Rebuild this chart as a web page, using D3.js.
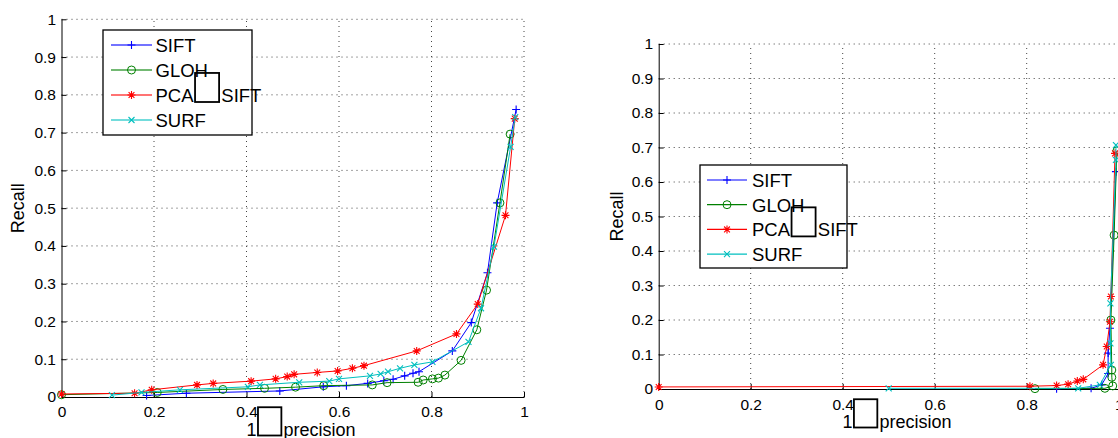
<!DOCTYPE html>
<html>
<head>
<meta charset="utf-8">
<script src="https://cdn.jsdelivr.net/npm/d3@7"></script>
<style>
  body { margin: 0; background: #fff; }
  svg { display: block; font-family: "Liberation Sans", Arial, sans-serif; }
</style>
</head>
<body>
<svg id="chart" width="1118" height="438"></svg>
<script>

// Series labels, colours and markers (legend order)
var seriesNames = ["SIFT", "GLOH", "PCA\u2212SIFT", "SURF"];
var seriesColors = ["#0000ff", "#008000", "#ff0000", "#00bfbf"];
var seriesMarkers = ["plus", "circle", "star", "cross"];

// Tick values and axis titles
var xTicks = [0, 0.2, 0.4, 0.6, 0.8, 1];
var yTicks = [0, 0.1, 0.2, 0.3, 0.4, 0.5, 0.6, 0.7, 0.8, 0.9, 1];
var xLabel = "1\u2212precision";
var yLabel = "Recall";

// Left panel, [1-precision, recall]
var leftSift = [[0.184, 0.004], [0.27, 0.01], [0.472, 0.016], [0.566, 0.027], [0.616, 0.03],
  [0.662, 0.036], [0.697, 0.043], [0.717, 0.047], [0.742, 0.056], [0.76, 0.063], [0.773, 0.067],
  [0.845, 0.122], [0.886, 0.197], [0.921, 0.329], [0.942, 0.514], [0.983, 0.761]];
var leftGloh = [[0, 0.006], [0.207, 0.012], [0.349, 0.02], [0.439, 0.023], [0.506, 0.026],
  [0.567, 0.03], [0.672, 0.032], [0.704, 0.038], [0.771, 0.039], [0.782, 0.045], [0.802, 0.048],
  [0.815, 0.05], [0.829, 0.058], [0.864, 0.097], [0.898, 0.178], [0.919, 0.283], [0.948, 0.514],
  [0.97, 0.696]];
var leftPca = [[0, 0.008], [0.158, 0.01], [0.195, 0.019], [0.293, 0.032], [0.328, 0.036],
  [0.41, 0.042], [0.463, 0.048], [0.488, 0.054], [0.503, 0.06], [0.553, 0.065], [0.597, 0.069],
  [0.629, 0.076], [0.654, 0.083], [0.768, 0.122], [0.854, 0.167], [0.9, 0.246], [0.96, 0.481],
  [0.98, 0.737]];
var leftSurf = [[0.109, 0.005], [0.173, 0.012], [0.256, 0.019], [0.403, 0.027], [0.429, 0.032],
  [0.514, 0.039], [0.579, 0.042], [0.6, 0.048], [0.667, 0.056], [0.69, 0.061], [0.706, 0.067],
  [0.732, 0.076], [0.763, 0.085], [0.802, 0.093], [0.88, 0.146], [0.907, 0.235], [0.935, 0.398],
  [0.971, 0.662], [0.981, 0.741]];

// Right panel, [1-precision, recall]
var rightSift = [[0.865, 0.001], [0.94, 0.002], [0.963, 0.012], [0.977, 0.045], [0.977, 0.104],
  [0.981, 0.176], [0.994, 0.63]];
var rightGloh = [[0.818, 0.001], [0.97, 0.002], [0.987, 0.009], [0.985, 0.034], [0.985, 0.055],
  [0.983, 0.2], [0.99, 0.446], [0.996, 0.69]];
var rightPca = [[0, 0.006], [0.807, 0.008], [0.865, 0.01], [0.89, 0.014], [0.91, 0.023],
  [0.923, 0.028], [0.966, 0.07], [0.974, 0.123], [0.981, 0.195], [0.983, 0.268], [0.992, 0.683]];
var rightSurf = [[0.5, 0.002], [0.912, 0.002], [0.959, 0.012], [0.983, 0.07], [0.982, 0.132],
  [0.982, 0.248], [0.994, 0.664], [0.994, 0.707]];

var svg = d3.select("#chart");

// Panel layout
var panels = [
  { left: 61.5, right: 524, top: 19.3, bottom: 397, labelPad: 8.5, xTitleY: 435.5, yTitleX: 23.5,
    data: [leftSift, leftGloh, leftPca, leftSurf],
    legend: { x: 103, y: 30, w: 149, h: 105, row0: 45, dy: 25, l0: 111, l1: 152, tx: 155.5,
              lineWidth: 2, lineOpacity: 0.55 } },
  { left: 658.7, right: 1118.7, top: 44, bottom: 389, labelPad: 9.5, xTitleY: 427.5, yTitleX: 623,
    data: [rightSift, rightGloh, rightPca, rightSurf],
    legend: { x: 700, y: 165, w: 147, h: 103, row0: 180, dy: 24.7, l0: 707, l1: 747, tx: 752,
              lineWidth: 1.2, lineOpacity: 1 } }
];

// Marker shapes
function markerPath(type) {
  if (type == "plus") return "M-4,0H4M0,-4V4";
  if (type == "cross") return "M-3,-3L3,3M-3,3L3,-3";
  if (type == "star") return "M-4,0H4M0,-4V4M-2.9,-2.9L2.9,2.9M-2.9,2.9L2.9,-2.9";
  return null;
}

function drawMarker(g, type, color, cx, cy) {
  if (type == "circle") {
    g.append("circle").attr("cx", cx).attr("cy", cy).attr("r", 4)
      .attr("fill", "none").attr("stroke", color).attr("stroke-width", 1);
  } else {
    g.append("path").attr("d", markerPath(type))
      .attr("transform", "translate(" + cx + "," + cy + ")")
      .attr("fill", "none").attr("stroke", color).attr("stroke-width", 1.1);
  }
}

// Text where the minus sign shows as an empty box (missing glyph)
function boxText(g, str, x, y, size, centred) {
  var parts = str.split("\u2212");
  var widths = parts.map(function(p) {
    var t = g.append("text").attr("font-size", size).text(p);
    var w = t.node().getComputedTextLength();
    t.remove();
    return w;
  });
  var boxAdv = 1.5 * size;
  var start = x;
  if (centred) {
    // centred as if the gap were a normal minus sign
    start = x - (d3.sum(widths) + 0.584 * size * (parts.length - 1)) / 2;
  }
  var cur = start;
  parts.forEach(function(p, i) {
    g.append("text").attr("x", cur).attr("y", y).attr("font-size", size)
      .attr("fill", "#000").text(p);
    cur += widths[i];
    if (i < parts.length - 1) {
      g.append("rect").attr("x", cur + 1.5).attr("y", y - 1.57 * size)
        .attr("width", 1.3 * size).attr("height", 1.57 * size)
        .attr("fill", "none").attr("stroke", "#000").attr("stroke-width", 1.8);
      cur += boxAdv;
    }
  });
}

panels.forEach(function(p) {
  var x = d3.scaleLinear().domain([0, 1]).range([p.left, p.right]);
  var y = d3.scaleLinear().domain([0, 1]).range([p.bottom, p.top]);
  var g = svg.append("g");

  // Dotted grid
  g.selectAll(".vgrid").data(xTicks.filter(function(d) { return d > 0; }))
    .enter().append("line")
    .attr("x1", function(d) { return x(d); }).attr("x2", function(d) { return x(d); })
    .attr("y1", p.bottom).attr("y2", p.top)
    .attr("stroke", "#444").attr("stroke-width", 1).attr("stroke-dasharray", "1,4");
  g.selectAll(".hgrid").data(yTicks.filter(function(d) { return d > 0; }))
    .enter().append("line")
    .attr("x1", p.left).attr("x2", p.right)
    .attr("y1", function(d) { return y(d); }).attr("y2", function(d) { return y(d); })
    .attr("stroke", "#444").attr("stroke-width", 1).attr("stroke-dasharray", "1,4");

  // Axes, ticks inside
  var xAxis = d3.axisBottom(x).tickValues(xTicks).tickSize(-5).tickSizeOuter(0)
    .tickPadding(p.labelPad).tickFormat(function(d) { return String(d); });
  var yAxis = d3.axisLeft(y).tickValues(yTicks).tickSize(-5).tickSizeOuter(0)
    .tickPadding(5.5).tickFormat(function(d) { return String(d); });

  var gx = g.append("g").attr("transform", "translate(0," + p.bottom + ")").call(xAxis);
  var gy = g.append("g").attr("transform", "translate(" + p.left + ",0)").call(yAxis);
  [gx, gy].forEach(function(a) {
    a.selectAll("text").attr("font-size", 15.5).attr("font-family", "Liberation Sans, Arial, sans-serif")
      .attr("fill", "#000");
    a.selectAll("line").attr("stroke", "#000");
    a.select(".domain").attr("stroke", "#000").attr("stroke-width", 1);
  });

  // Axis titles
  boxText(g, xLabel, (p.left + p.right) / 2, p.xTitleY, 18, true);
  g.append("text").attr("transform", "translate(" + p.yTitleX + "," + (p.top + p.bottom) / 2 + ") rotate(-90)")
    .attr("text-anchor", "middle").attr("font-size", 18).attr("fill", "#000").text(yLabel);

  // Curves
  var line = d3.line().x(function(d) { return x(d[0]); }).y(function(d) { return y(d[1]); });
  p.data.forEach(function(series, i) {
    g.append("path").datum(series).attr("d", line)
      .attr("fill", "none").attr("stroke", seriesColors[i]).attr("stroke-width", 1);
    series.forEach(function(d) {
      drawMarker(g, seriesMarkers[i], seriesColors[i], x(d[0]), y(d[1]));
    });
  });

  // Legend
  var L = p.legend;
  var lg = g.append("g");
  lg.append("rect").attr("x", L.x).attr("y", L.y).attr("width", L.w).attr("height", L.h)
    .attr("fill", "#fff").attr("stroke", "#000").attr("stroke-width", 1.3);
  seriesNames.forEach(function(name, i) {
    var ry = L.row0 + i * L.dy;
    lg.append("line").attr("x1", L.l0).attr("x2", L.l1).attr("y1", ry).attr("y2", ry)
      .attr("stroke", seriesColors[i]).attr("stroke-width", L.lineWidth)
      .attr("stroke-opacity", L.lineOpacity);
    drawMarker(lg, seriesMarkers[i], seriesColors[i], (L.l0 + L.l1) / 2, ry);
    boxText(lg, name, L.tx, ry + 7, 18.5, false);
  });
});
</script>
</body>
</html>
